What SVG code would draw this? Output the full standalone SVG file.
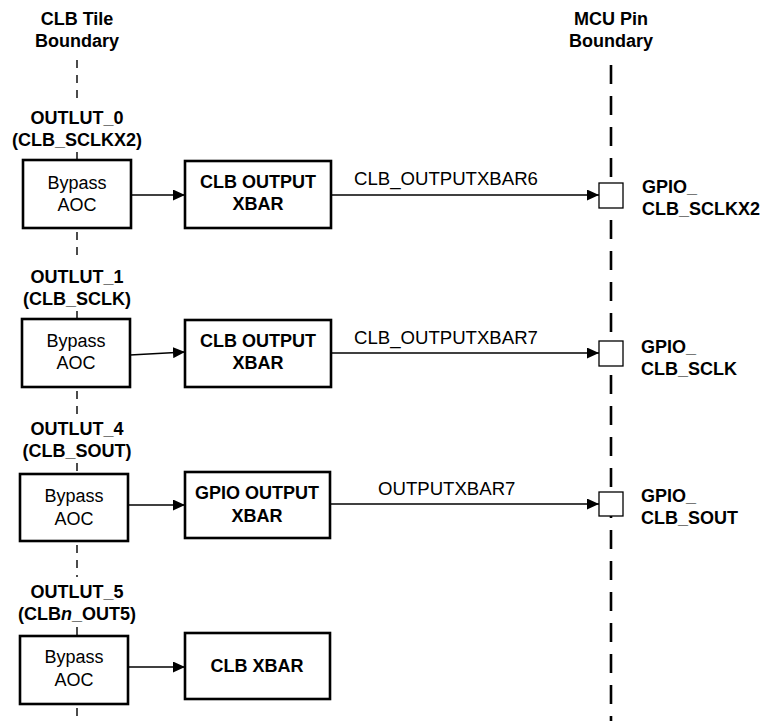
<svg xmlns="http://www.w3.org/2000/svg" width="764" height="721" viewBox="0 0 764 721">
  <style>
    text { font-family: "Liberation Sans", Arial, sans-serif; font-size: 18px; fill: #000; }
    .b { font-weight: bold; }
    .c { text-anchor: middle; }
    .sig { font-size: 18.6px; }
    .box { fill: #fff; stroke: #000; stroke-width: 2.6; }
    .pin { fill: #fff; stroke: #000; stroke-width: 1.3; }
    .wire { fill: none; stroke: #000; stroke-width: 1.3; }
    .tile { fill: none; stroke: #000; stroke-width: 1.4; stroke-dasharray: 8 7; }
    .mcu { fill: none; stroke: #000; stroke-width: 2.6; stroke-dasharray: 19 12; }
  </style>
  <defs>
    <marker id="ah" markerWidth="12" markerHeight="11" refX="12" refY="5.5" orient="auto" markerUnits="userSpaceOnUse">
      <path d="M0,0 L12,5.5 L0,11 Z" fill="#000"/>
    </marker>
  </defs>
  <rect width="764" height="721" fill="#fff"/>

  <!-- boundary lines -->
  <g id="boundaries">
    <path class="tile" d="M77,60 V102 M77,152 V160 M77,232 V262 M77,311 V320 M77,391 V414 M77,463 V474 M77,545 V577 M77,627 V636 M77,708 V721"/>
    <path class="mcu" d="M611,65 V721"/>
    <text class="b c" x="77" y="25">CLB Tile</text>
    <text class="b c" x="77" y="47">Boundary</text>
    <text class="b c" x="611" y="25">MCU Pin</text>
    <text class="b c" x="611" y="47">Boundary</text>
  </g>

  <!-- connectors -->
  <g id="connectors">
    <path class="wire" d="M131,195 L185,195" marker-end="url(#ah)"/>
    <path class="wire" d="M331,195 L599,195" marker-end="url(#ah)"/>
    <text class="sig" x="354" y="185">CLB_OUTPUTXBAR6</text>
    <path class="wire" d="M130,355 L185,352" marker-end="url(#ah)"/>
    <path class="wire" d="M331,353 L599,353" marker-end="url(#ah)"/>
    <text class="sig" x="354" y="344">CLB_OUTPUTXBAR7</text>
    <path class="wire" d="M128,505 L185,505" marker-end="url(#ah)"/>
    <path class="wire" d="M330,504 L599,504" marker-end="url(#ah)"/>
    <text class="sig" x="378" y="495">OUTPUTXBAR7</text>
    <path class="wire" d="M128,667 L185,667" marker-end="url(#ah)"/>
  </g>

  <!-- channel 0 -->
  <g id="outlut0">
    <text class="b c" x="77" y="124">OUTLUT_0</text>
    <text class="b c" x="77" y="146">(CLB_SCLKX2)</text>
    <rect class="box" x="23" y="160" width="108" height="68"/>
    <text class="c" x="77" y="189">Bypass</text>
    <text class="c" x="77" y="211">AOC</text>
  </g>
  <g id="xbar0">
    <rect class="box" x="185" y="161" width="146" height="67"/>
    <text class="b c" x="258" y="188">CLB OUTPUT</text>
    <text class="b c" x="258" y="210">XBAR</text>
  </g>
  <g id="pin0">
    <rect class="pin" x="599" y="183" width="24" height="25"/>
    <text class="b" x="642" y="193">GPIO_</text>
    <text class="b" x="642" y="215">CLB_SCLKX2</text>
  </g>

  <!-- channel 1 -->
  <g id="outlut1">
    <text class="b c" x="77" y="283">OUTLUT_1</text>
    <text class="b c" x="77" y="305">(CLB_SCLK)</text>
    <rect class="box" x="22" y="319" width="108" height="68"/>
    <text class="c" x="76" y="347">Bypass</text>
    <text class="c" x="76" y="369">AOC</text>
  </g>
  <g id="xbar1">
    <rect class="box" x="185" y="320" width="146" height="67"/>
    <text class="b c" x="258" y="347">CLB OUTPUT</text>
    <text class="b c" x="258" y="369">XBAR</text>
  </g>
  <g id="pin1">
    <rect class="pin" x="599" y="341" width="24" height="25"/>
    <text class="b" x="641" y="353">GPIO_</text>
    <text class="b" x="641" y="375">CLB_SCLK</text>
  </g>

  <!-- channel 4 -->
  <g id="outlut4">
    <text class="b c" x="77" y="435">OUTLUT_4</text>
    <text class="b c" x="77" y="457">(CLB_SOUT)</text>
    <rect class="box" x="20" y="474" width="108" height="67"/>
    <text class="c" x="74" y="502">Bypass</text>
    <text class="c" x="74" y="525">AOC</text>
  </g>
  <g id="xbar4">
    <rect class="box" x="185" y="472" width="145" height="66"/>
    <text class="b c" x="257" y="499">GPIO OUTPUT</text>
    <text class="b c" x="257" y="522">XBAR</text>
  </g>
  <g id="pin4">
    <rect class="pin" x="599" y="492" width="24" height="24"/>
    <text class="b" x="641" y="502">GPIO_</text>
    <text class="b" x="641" y="524">CLB_SOUT</text>
  </g>

  <!-- channel 5 -->
  <g id="outlut5">
    <text class="b c" x="77" y="598">OUTLUT_5</text>
    <text class="b c" x="77" y="620">(CLB<tspan font-style="italic">n</tspan>_OUT5)</text>
    <rect class="box" x="20" y="636" width="108" height="68"/>
    <text class="c" x="74" y="663">Bypass</text>
    <text class="c" x="74" y="686">AOC</text>
  </g>
  <g id="xbar5">
    <rect class="box" x="185" y="633" width="145" height="66"/>
    <text class="b c" x="257" y="672">CLB XBAR</text>
  </g>
</svg>
